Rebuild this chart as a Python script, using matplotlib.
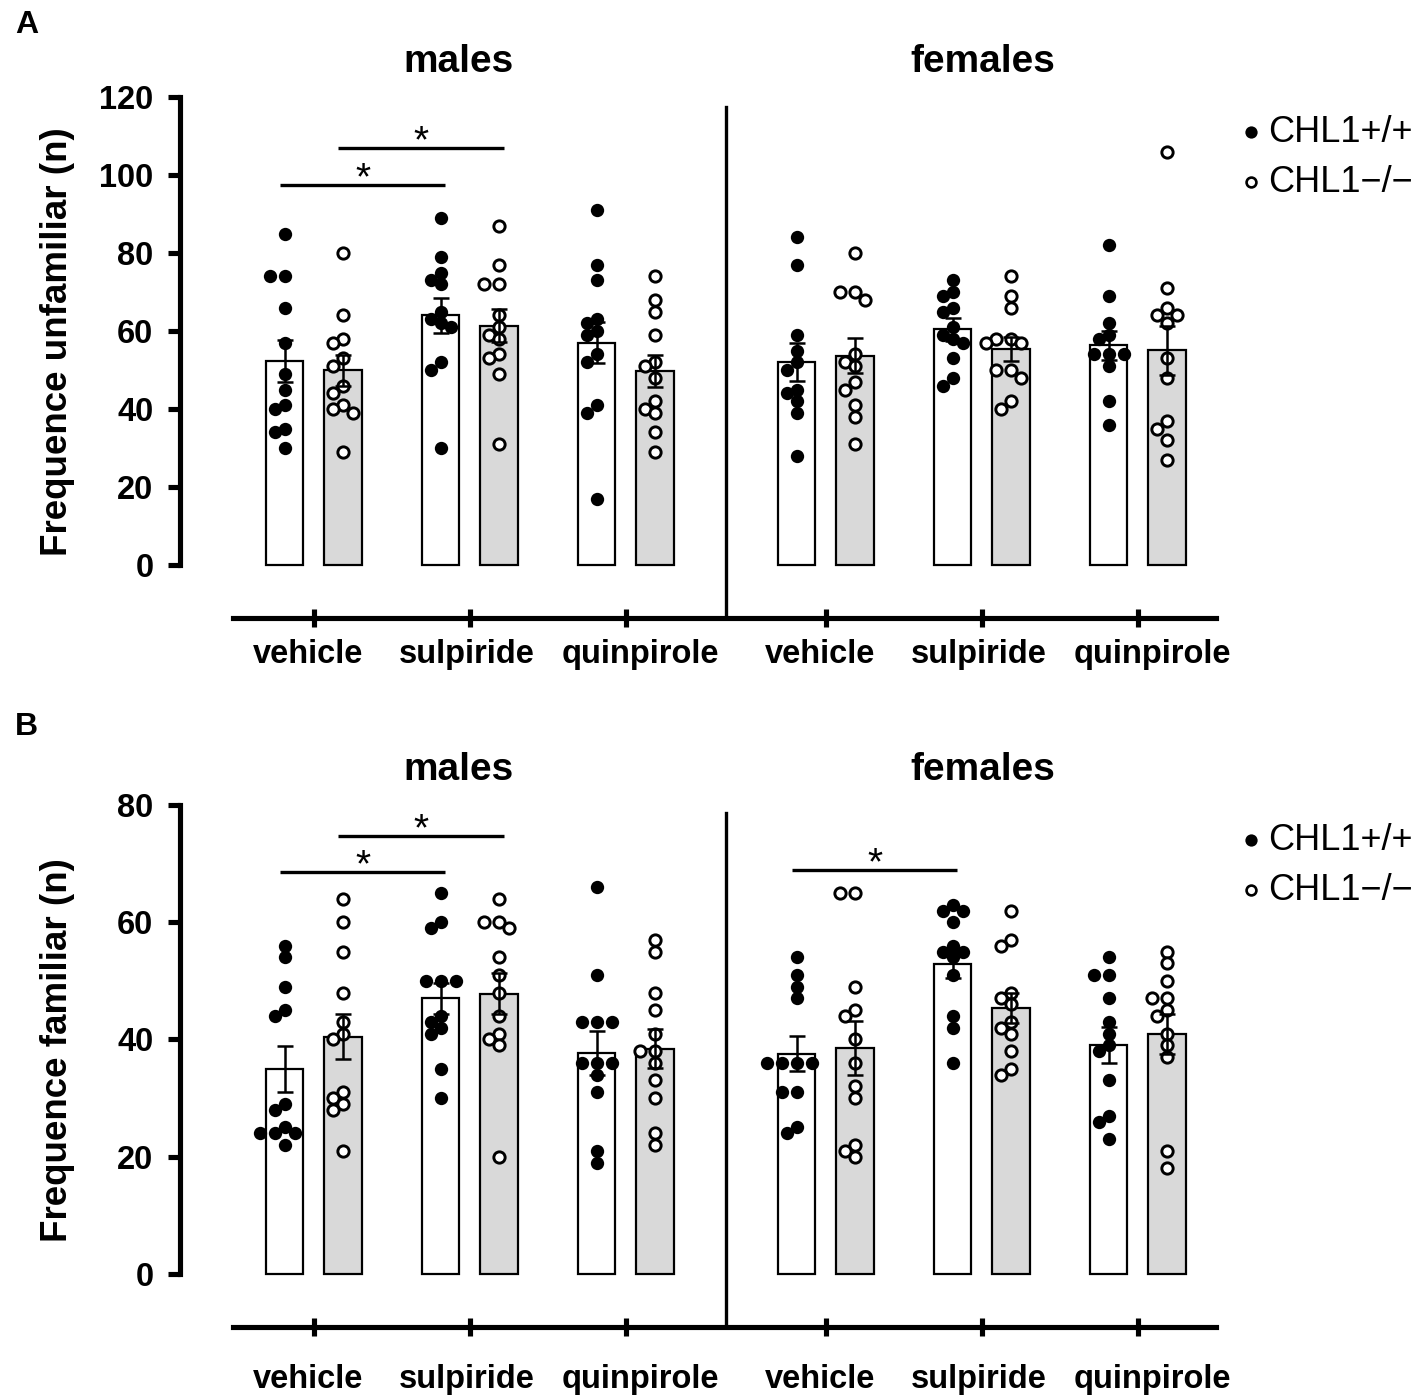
import numpy as np
import matplotlib
matplotlib.use("Agg")
import matplotlib.pyplot as plt

plt.rcParams['font.family'] = ['Liberation Sans', 'DejaVu Sans']

treatments = ["vehicle", "sulpiride", "quinpirole"]
sexes = ["males", "females"]
genotypes = ["CHL1+/+", "CHL1\u2212/\u2212"]

#%% A - frequence unfamiliar, single animals (vehicle, sulpiride, quinpirole)
unf_males_wt = [[85, 74, 74, 66, 57, 49, 45, 41, 40, 35, 34, 30],
                [89, 79, 75, 73, 72, 65, 63, 62, 61, 52, 50, 30],
                [91, 77, 73, 63, 62, 60, 59, 54, 52, 41, 39, 17]]
unf_males_ko = [[80, 64, 58, 57, 53, 51, 46, 44, 41, 40, 39, 29],
                [87, 77, 72, 72, 64, 61, 59, 58, 54, 53, 49, 31],
                [74, 68, 65, 59, 52, 51, 48, 42, 40, 39, 34, 29]]
unf_females_wt = [[84, 77, 59, 55, 52, 50, 45, 44, 42, 39, 28],
                  [73, 70, 69, 66, 65, 61, 59, 58, 57, 53, 48, 46],
                  [82, 69, 62, 59, 58, 54, 54, 54, 51, 42, 36]]
unf_females_ko = [[80, 70, 70, 68, 54, 52, 51, 47, 45, 41, 38, 31],
                  [74, 69, 66, 58, 58, 57, 57, 50, 50, 48, 42, 40],
                  [106, 71, 66, 64, 64, 62, 53, 48, 37, 35, 32, 27]]
# bar = mean, whisker = SEM (males veh/sul/qui, females veh/sul/qui)
unf_mean_wt = [52.2, 64.0, 57.0, 52.0, 60.4, 56.3]
unf_sem_wt = [5.4, 4.4, 5.2, 4.9, 2.9, 3.8]
unf_mean_ko = [49.9, 61.4, 49.7, 53.7, 55.4, 55.1]
unf_sem_ko = [4.0, 4.3, 4.1, 4.5, 3.1, 6.3]
# significance bars: (group, genotype) -> (group, genotype), height
unf_sig = [((0, 0), (1, 0), 97.4), ((0, 1), (1, 1), 106.8)]

#%% B - frequence familiar
fam_males_wt = [[56, 54, 49, 45, 44, 29, 28, 25, 24, 24, 24, 22],
                [65, 60, 59, 50, 50, 50, 44, 43, 42, 41, 35, 30],
                [66, 51, 43, 43, 43, 36, 36, 36, 34, 31, 21, 19]]
fam_males_ko = [[64, 60, 55, 48, 43, 41, 40, 31, 30, 29, 28, 21],
                [64, 60, 60, 59, 54, 51, 48, 44, 41, 40, 39, 20],
                [57, 55, 48, 45, 41, 38, 38, 36, 33, 30, 24, 22]]
fam_females_wt = [[54, 51, 49, 47, 36, 36, 36, 36, 31, 31, 25, 24],
                  [63, 62, 62, 60, 56, 55, 55, 54, 51, 44, 42, 36],
                  [54, 51, 51, 47, 43, 41, 39, 38, 33, 27, 26, 23]]
fam_females_ko = [[65, 65, 49, 45, 44, 40, 36, 32, 30, 22, 21, 20],
                  [62, 57, 56, 48, 47, 46, 43, 42, 41, 38, 35, 34],
                  [55, 53, 50, 47, 47, 45, 44, 41, 39, 37, 21, 18]]
fam_mean_wt = [34.9, 47.0, 37.7, 37.6, 52.8, 39.0]
fam_sem_wt = [3.9, 2.7, 3.7, 3.0, 2.4, 3.1]
fam_mean_ko = [40.5, 47.8, 38.4, 38.6, 45.4, 40.9]
fam_sem_ko = [3.9, 3.5, 3.3, 4.6, 2.6, 3.4]
fam_sig = [((0, 0), (1, 0), 68.5), ((0, 1), (1, 1), 74.7), ((3, 0), (4, 0), 68.9)]

# layout
xg = np.concatenate([np.arange(3), np.arange(3) + 3.282])
off = 0.1875
bw = 0.24
xdiv = (xg[2] + xg[3]) / 2
tick_lw = 3.7


def swarm(ax, xc, vals, diam=12.5):
    # simple beeswarm in pixel space, dots may touch a little
    vals = np.asarray(vals, float)
    p0 = ax.transData.transform([(0, 0), (1, 1)])
    sx, sy = p0[1] - p0[0]
    ypx = vals * sy
    step = diam / 2.5
    cands = [0.0]
    for k in range(1, 12):
        cands += [-k * step, k * step]
    px, py = [], []
    for y in ypx:
        for c in cands:
            ok = all((c - a) ** 2 + (y - b) ** 2 >= (0.82 * diam) ** 2 for a, b in zip(px, py))
            if ok:
                break
        px.append(c)
        py.append(y)
    return xc + np.array(px) / sx


def draw_panel(ax, wt, ko, m_wt, s_wt, m_ko, s_ko, ymax, ylabel, sig, div_top, lab_pad):
    y0 = -ymax * 0.1132
    ax.set_xlim(-0.858, 5.783)
    ax.set_ylim(y0, ymax)

    for k, (dots, means, sems, face) in enumerate([(wt, m_wt, s_wt, 'white'),
                                                   (ko, m_ko, s_ko, '#d9d9d9')]):
        xs = xg + (2 * k - 1) * off
        ax.bar(xs, means, width=bw, color=face, edgecolor='black', linewidth=1.6, zorder=2)
        for x, d in zip(xs, dots):
            xx = swarm(ax, x, d)
            if k == 0:
                ax.scatter(xx, d, s=92, color='black', linewidths=0, zorder=3)
            else:
                ax.scatter(xx, d, s=66, facecolor='white', edgecolor='black', linewidths=2.1, zorder=3)
        ax.errorbar(xs, means, yerr=sems, fmt='none', ecolor='black', elinewidth=1.8,
                    capsize=6, capthick=1.8, zorder=4)

    # significance
    for (g1, k1), (g2, k2), h in sig:
        x1 = xg[g1] + (2 * k1 - 1) * off - 0.03
        x2 = xg[g2] + (2 * k2 - 1) * off + 0.03
        ax.plot([x1, x2], [h, h], color='black', lw=2.4, solid_capstyle='butt', zorder=5)
        ax.annotate('*', xy=((x1 + x2) / 2, h), xytext=(0, -3), textcoords='offset points',
                    ha='center', va='baseline', fontsize=28)

    # sex divider
    ax.plot([xdiv, xdiv], [y0, div_top], color='black', lw=2.4, clip_on=False, zorder=5)

    for sp in ['top', 'right']:
        ax.spines[sp].set_visible(False)
    ax.spines['left'].set_bounds(0, ymax)
    ax.spines['bottom'].set_bounds(-0.518, 5.783)
    ax.spines['left'].set_linewidth(tick_lw)
    ax.spines['bottom'].set_linewidth(tick_lw)

    ax.set_yticks(np.arange(0, ymax + 1, 20))
    ax.tick_params(axis='y', length=8.6, width=tick_lw, pad=10.5, labelsize=23.5)
    for t in ax.get_yticklabels():
        t.set_fontweight('bold')

    ax.set_xticks(xg)
    ax.set_xticklabels([])
    ax.tick_params(axis='x', which='major', direction='inout', length=13, width=tick_lw)
    ax.set_xticks(xg + np.tile([-0.035, -0.02, 0.095], 2), minor=True)
    ax.set_xticklabels(treatments * 2, minor=True, fontsize=23.5, fontweight='bold')
    ax.tick_params(axis='x', which='minor', length=0, pad=lab_pad)

    ax.set_ylabel(ylabel, fontsize=26.5, fontweight='bold')
    ax.yaxis.set_label_coords(-0.101, 0.53)

    tr = ax.get_xaxis_transform()
    ax.text(0.93, 1.048, sexes[0], transform=tr, ha='center', va='baseline',
            fontsize=28, fontweight='bold')
    ax.text(4.29, 1.048, sexes[1], transform=tr, ha='center', va='baseline',
            fontsize=28, fontweight='bold')

    # legend
    ax.scatter([1.034], [0.9334], transform=ax.transAxes, s=78, color='black',
               linewidths=0, clip_on=False)
    ax.scatter([1.034], [0.8374], transform=ax.transAxes, s=50, facecolor='white',
               edgecolor='black', linewidths=1.9, clip_on=False)
    ax.text(1.0502, 0.9142, genotypes[0], transform=ax.transAxes, fontsize=26, va='baseline')
    ax.text(1.0502, 0.8182, genotypes[1], transform=ax.transAxes, fontsize=26, va='baseline')


fig = plt.figure(figsize=(14.18, 14.0), dpi=100)
axA = fig.add_axes([180 / 1418, 782 / 1400, 1036 / 1418, 521 / 1400])
axB = fig.add_axes([180 / 1418, 73 / 1400, 1036 / 1418, 522 / 1400])

draw_panel(axA, unf_males_wt + unf_females_wt, unf_males_ko + unf_females_ko,
           unf_mean_wt, unf_sem_wt, unf_mean_ko, unf_sem_ko, 120,
           "Frequence unfamiliar (n)", unf_sig, 117.4, 15)
draw_panel(axB, fam_males_wt + fam_females_wt, fam_males_ko + fam_females_ko,
           fam_mean_wt, fam_sem_wt, fam_mean_ko, fam_sem_ko, 80,
           "Frequence familiar (n)", fam_sig, 78.6, 26.5)

fig.text(15 / 1418, 1 - 33 / 1400, 'A', fontsize=23, fontweight='bold')
fig.text(15 / 1418, 1 - 735 / 1400, 'B', fontsize=23, fontweight='bold')

fig.savefig("out.png", dpi=100)
